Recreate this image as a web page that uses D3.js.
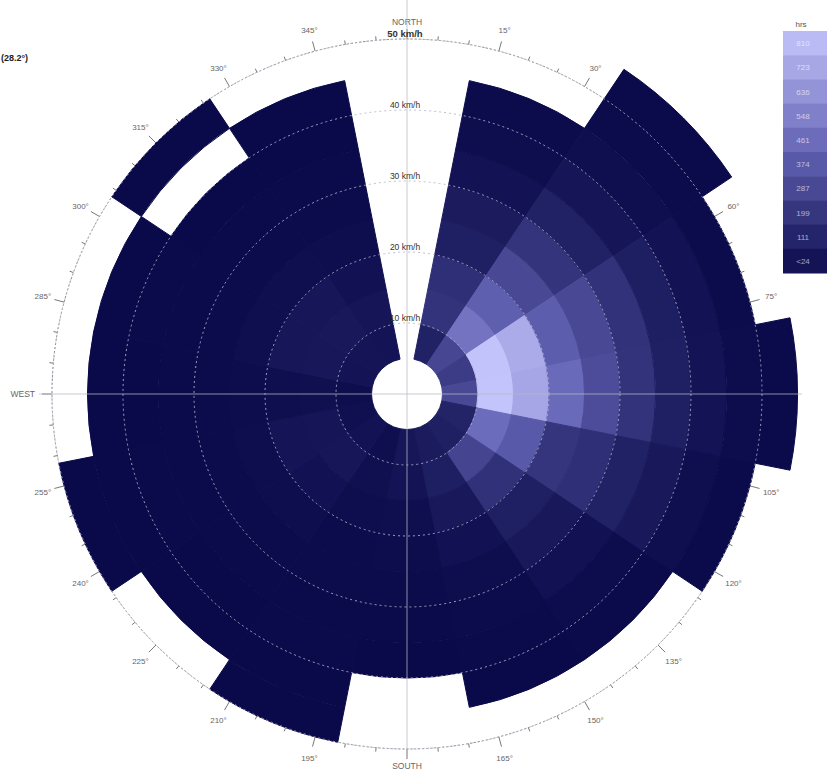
<!DOCTYPE html>
<html>
<head>
<meta charset="utf-8">
<script src="https://cdn.jsdelivr.net/npm/d3@7/dist/d3.min.js"></script>
<style>
  html, body { margin: 0; padding: 0; background: #ffffff; }
  svg { display: block; font-family: "Liberation Sans", Arial, sans-serif; }
</style>
</head>
<body>
<svg id="chart" width="827" height="774"></svg>
<script>
// ---- data ----
const directions = ["N","NNE","NE","ENE","E","ESE","SE","SSE","S","SSW","SW","WSW","W","WNW","NW","NNW"];
const speedEdges = [5,10,15,20,25,30,35,40,45,50,55];   // km/h bin edges
const speedRings = [10,20,30,40,50];
const degreeTicks = [15,30,45,60,75,105,120,135,150,165,195,210,225,240,255,285,300,315,330,345];
const compassLabels = ["NORTH","SOUTH","WEST"];
const compassAngles = [0,180,270];
const legendLabels = ["810","723","636","548","461","374","287","199","111","<24"];
// hours per direction (rows) and speed bin 5-10 ... 50-55 (cols); null = no data
const hrsN   = [];
const hrsNNE = [110, 200, 180, 100, 80, 40, 20, 8];
const hrsNE  = [290, 500, 410, 300, 205, 110, 55, 25, 10, 4];
const hrsENE = [240, 845, 740, 400, 300, 195, 95, 40, 10];
const hrsE   = [300, 850, 720, 460, 320, 200, 100, 45, 15, 5];
const hrsESE = [120, 470, 380, 210, 180, 110, 70, 25, 6];
const hrsSE  = [100, 280, 190, 100, 70, 35, 15, 5];
const hrsSSE = [80, 95, 70, 35, 20, 10, 4, 2];
const hrsS   = [60, 45, 25, 15, 10, 5, 2];
const hrsSSW = [25, 30, 20, 12, 8, 5, 3, 2, 1];
const hrsSW  = [40, 60, 35, 18, 10, 5, 2, 1];
const hrsWSW = [30, 55, 50, 20, 12, 6, 3, 2, 1];
const hrsW   = [20, 30, 22, 14, 8, 4, 2, 1];
const hrsWNW = [45, 65, 60, 25, 12, 6, 3, 1];
const hrsNW  = [50, 70, 60, 25, 12, 6, 2, null, 1];
const hrsNNW = [45, 55, 35, 18, 10, 5, 2, 1];
const hours = [hrsN,hrsNNE,hrsNE,hrsENE,hrsE,hrsESE,hrsSE,hrsSSE,hrsS,hrsSSW,hrsSW,hrsWSW,hrsW,hrsWNW,hrsNW,hrsNNW];

// ---- layout ----
const svg = d3.select("#chart");
const cx = 407, cy = 394;
const r = d3.scaleLinear().domain([0, 50]).range([0, 355]);
const color = d3.scaleLinear().domain([0, 425, 850])
  .range(["#0a0a4a", "#6262b4", "#c4c4fc"]).clamp(true);
const rad = d => d * Math.PI / 180;
const pt = (deg, rr) => [cx + rr * Math.sin(rad(deg)), cy - rr * Math.cos(rad(deg))];
const g = svg.append("g");

// outer degree circle with ticks (under the cells)
g.append("circle").attr("cx", cx).attr("cy", cy).attr("r", r(50))
  .attr("fill", "none").attr("stroke", "#8a8a8a").attr("stroke-width", 1)
  .attr("stroke-dasharray", "2,2");
d3.range(0, 360, 5).forEach(a => {
  const major = a % 15 === 0;
  const p1 = pt(a, r(50)), p2 = pt(a, r(50) + (major ? 10 : 4));
  g.append("line").attr("x1", p1[0]).attr("y1", p1[1]).attr("x2", p2[0]).attr("y2", p2[1])
    .attr("stroke", "#777").attr("stroke-width", 1);
});
degreeTicks.forEach(a => {
  const p = pt(a, 377);
  g.append("text").attr("x", p[0]).attr("y", p[1] + 3).attr("text-anchor", "middle")
    .attr("font-size", 8).attr("fill", "#666").text(a + "°");
});
compassLabels.forEach((t, k) => {
  const a = compassAngles[k];
  const p = pt(a, 372);
  const anchor = a === 270 ? "end" : "middle";
  g.append("text").attr("x", p[0]).attr("y", p[1] + 3).attr("text-anchor", anchor)
    .attr("font-size", 8.5).attr("fill", "#666").text(t);
});

// cells
const arc = d3.arc();
const cells = [];
hours.forEach((row, i) => {
  row.forEach((v, j) => {
    if (v === null || v === undefined) return;
    cells.push({ dir: i, bin: j, v });
  });
});
g.selectAll("path.cell").data(cells).join("path").attr("class", "cell")
  .attr("transform", `translate(${cx},${cy})`)
  .attr("d", d => arc({
    innerRadius: r(speedEdges[d.bin]),
    outerRadius: r(speedEdges[d.bin + 1]),
    startAngle: rad(d.dir * 22.5 - 11.25),
    endAngle: rad(d.dir * 22.5 + 11.25)
  }))
  .attr("fill", d => color(d.v))
  .attr("stroke", d => color(d.v)).attr("stroke-width", 1)
  .attr("stroke-linejoin", "round");

// speed rings
speedRings.forEach(s => {
  g.append("circle").attr("cx", cx).attr("cy", cy).attr("r", r(s))
    .attr("fill", "none").attr("stroke", "#b4b4cc").attr("stroke-width", 1)
    .attr("stroke-dasharray", "2,3").attr("opacity", 0.85);
});

// cross lines
g.append("line").attr("x1", cx).attr("x2", cx).attr("y1", 0).attr("y2", cy + 362)
  .attr("stroke", "#b8b8c4").attr("stroke-width", 1).attr("opacity", 0.75);
g.append("line").attr("x1", cx - 368).attr("x2", cx + 395).attr("y1", cy).attr("y2", cy)
  .attr("stroke", "#b8b8c4").attr("stroke-width", 1).attr("opacity", 0.75);

// speed labels
speedRings.forEach(s => {
  g.append("text").attr("x", cx - 2).attr("y", cy - r(s) - 2).attr("text-anchor", "middle")
    .attr("font-size", s === 50 ? 9.5 : 8.5).attr("font-weight", s === 50 ? "bold" : "normal")
    .attr("fill", "#333").text(s + " km/h");
});

// legend
const lx = 783, ly = 31, lw = 44, lh = 24.2;
svg.append("text").attr("x", lx + 18).attr("y", 27).attr("text-anchor", "middle")
  .attr("font-size", 8).attr("fill", "#555").text("hrs");
legendLabels.forEach((t, k) => {
  const v = (legendLabels.length - 1 - k + 0.5) * 85;
  svg.append("rect").attr("x", lx).attr("y", ly + k * lh).attr("width", lw).attr("height", lh + 0.5)
    .attr("fill", color(v));
  svg.append("text").attr("x", lx + 20).attr("y", ly + k * lh + lh / 2 + 3)
    .attr("text-anchor", "middle").attr("font-size", 8)
    .attr("fill", "#ffffff").attr("opacity", 0.6).text(t);
});

// title fragment at top-left
svg.append("text").attr("x", 1).attr("y", 61).attr("font-size", 9).attr("font-weight", "bold")
  .attr("fill", "#222").text("(28.2°)");
</script>
</body>
</html>
